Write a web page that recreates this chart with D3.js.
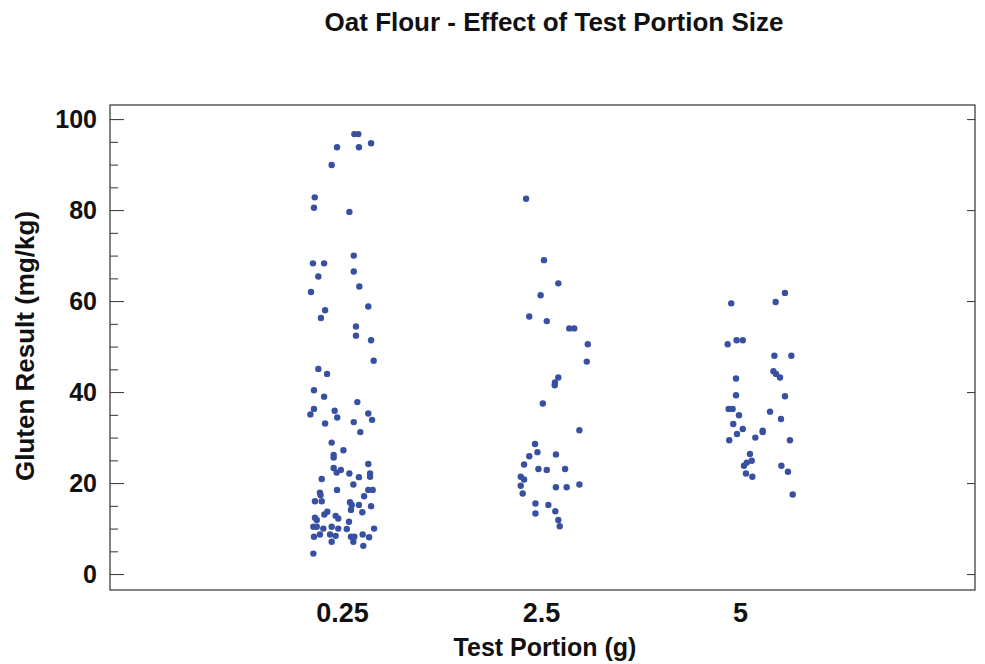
<!DOCTYPE html>
<html>
<head>
<meta charset="utf-8">
<script src="https://cdn.jsdelivr.net/npm/d3@7"></script>
<style>
  html, body { margin: 0; padding: 0; background: #fff; }
  svg { display: block; }
</style>
</head>
<body>
<svg id="chart" width="985" height="664"></svg>
<script>
// ---- DATA ----
const categories = ["0.25", "2.5", "5"];
const yTicks = [0, 20, 40, 60, 80, 100];
const title = "Oat Flour - Effect of Test Portion Size";
const xLabel = "Test Portion (g)";
const yLabel = "Gluten Result (mg/kg)";

// Gluten results (mg/kg) for each test portion
const values025 = [96.7,96.7,93.8,93.8,94.7,89.9,82.8,80.5,79.6,70.0,68.3,68.3,66.5,65.4,63.2,62.0,58.8,58.0,56.3,54.4,52.4,51.4,46.9,45.1,44.0,40.4,39.0,37.8,36.3,35.9,35.3,35.1,34.4,33.9,33.4,33.1,31.2,28.9,27.2,26.2,25.6,24.2,23.3,22.9,22.3,22.1,22.1,21.4,21.3,20.9,19.7,18.5,18.5,18.5,17.9,17.4,17.1,16.0,16.0,15.8,15.2,15.2,14.9,14.1,13.7,13.6,13.1,12.8,12.4,12.2,11.9,11.5,10.4,10.4,10.4,10.0,10.0,10.0,9.9,8.7,8.7,8.7,8.4,8.2,8.2,8.2,8.1,7.1,7.1,6.2,4.5];
// horizontal jitter, in units of category spacing
const jitter025 = [0.062,0.082,-0.025,0.085,0.146,-0.052,-0.137,-0.141,0.037,0.059,-0.146,-0.090,0.059,-0.119,0.087,-0.156,0.132,-0.085,-0.106,0.070,0.070,0.146,0.159,-0.119,-0.075,-0.141,-0.090,0.077,-0.141,-0.037,0.132,-0.159,-0.024,0.151,0.059,-0.085,0.092,-0.052,0.007,-0.042,-0.042,0.132,-0.042,-0.006,-0.027,0.037,0.141,0.141,0.085,-0.102,0.057,-0.025,0.132,0.154,-0.111,-0.108,0.111,-0.136,-0.102,0.040,0.049,0.085,0.146,0.045,-0.074,0.102,-0.089,-0.032,-0.136,-0.019,-0.127,0.035,-0.144,-0.127,-0.052,-0.094,-0.019,0.161,0.024,-0.111,-0.060,0.104,-0.032,-0.141,0.045,0.062,0.136,-0.052,0.057,0.107,-0.144];

const values25 = [82.5,69.0,63.9,61.3,56.6,55.6,54.0,54.0,50.5,46.7,43.2,42.1,41.5,37.5,31.6,28.6,26.8,25.9,26.3,24.1,23.1,22.9,23.1,21.4,20.8,19.4,19.1,19.1,19.7,17.7,15.5,15.2,13.3,13.8,11.9,10.5];
const jitter25 = [-0.075,0.015,0.087,-0.002,-0.059,0.029,0.142,0.167,0.235,0.230,0.087,0.070,0.069,0.009,0.193,-0.030,-0.018,-0.059,0.075,-0.085,-0.013,0.029,0.121,-0.102,-0.085,-0.102,0.075,0.129,0.193,-0.092,-0.028,0.037,-0.028,0.072,0.087,0.094];

const values5 = [61.8,59.5,59.8,50.5,51.4,51.4,48.0,48.0,44.6,44.0,43.2,43.0,39.3,39.1,36.3,36.3,34.9,35.7,34.1,33.0,31.9,31.5,31.2,30.8,30.0,29.4,29.4,26.4,24.9,24.5,23.8,23.8,22.1,21.4,22.5,17.5];
const jitter5 = [0.226,-0.044,0.179,-0.062,-0.017,0.014,0.173,0.258,0.168,0.181,0.201,-0.020,-0.020,0.226,-0.057,-0.037,-0.005,0.151,0.206,-0.034,0.014,0.114,0.114,-0.015,0.077,-0.054,0.251,0.050,0.059,0.034,0.020,0.208,0.030,0.062,0.241,0.265];

const seriesValues = [values025, values25, values5];
const seriesJitter = [jitter025, jitter25, jitter5];

// ---- LAYOUT ----
const svg = d3.select("#chart");
const frame = { left: 110, right: 975, top: 105, bottom: 590 };

const x = d3.scaleLinear().domain([-1.166, 3.181]).range([frame.left, frame.right]);
const y = d3.scaleLinear().domain([-3.5, 103.1]).range([frame.bottom, frame.top]);

const boldFont = "'Liberation Sans', Arial, Helvetica, sans-serif";
const narrowFont = "'Liberation Sans Narrow', 'Arial Narrow', 'Liberation Sans', Arial, sans-serif";

// Title
svg.append("text")
  .attr("x", 554).attr("y", 31)
  .attr("text-anchor", "middle")
  .attr("font-family", boldFont).attr("font-weight", "bold").attr("font-size", 26)
  .attr("fill", "#111")
  .text(title);

// Frame
svg.append("rect")
  .attr("x", frame.left).attr("y", frame.top)
  .attr("width", frame.right - frame.left).attr("height", frame.bottom - frame.top)
  .attr("fill", "none").attr("stroke", "#333").attr("stroke-width", 1.2);

// Left axis: major ticks (inward) and labels
const leftMajor = d3.axisRight(y).tickValues(yTicks).tickSize(14).tickFormat("");
const gMajor = svg.append("g").attr("transform", `translate(${frame.left},0)`).call(leftMajor);
gMajor.select(".domain").remove();
gMajor.selectAll("line").attr("stroke", "#333");

const minorVals = d3.range(0, 101, 5).filter(v => v % 20 !== 0);
const leftMinor = d3.axisRight(y).tickValues(minorVals).tickSize(8).tickFormat("");
const gMinor = svg.append("g").attr("transform", `translate(${frame.left},0)`).call(leftMinor);
gMinor.select(".domain").remove();
gMinor.selectAll("line").attr("stroke", "#333");

// Right axis: major ticks inward
const rightMajor = d3.axisLeft(y).tickValues(yTicks).tickSize(8).tickFormat("");
const gRight = svg.append("g").attr("transform", `translate(${frame.right},0)`).call(rightMajor);
gRight.select(".domain").remove();
gRight.selectAll("line").attr("stroke", "#333");

// Y tick labels
const yLabelsAxis = d3.axisLeft(y).tickValues(yTicks).tickSize(0).tickPadding(13).tickFormat(d3.format("d"));
const gYL = svg.append("g").attr("transform", `translate(${frame.left},0)`).call(yLabelsAxis);
gYL.select(".domain").remove();
gYL.selectAll("text")
  .attr("font-family", boldFont).attr("font-weight", "bold").attr("font-size", 25)
  .attr("fill", "#111");

// X tick labels
const xAxis = d3.axisBottom(x).tickValues([0, 1, 2]).tickSize(0).tickPadding(13)
  .tickFormat(i => categories[i]);
const gX = svg.append("g").attr("transform", `translate(0,${frame.bottom})`).call(xAxis);
gX.select(".domain").remove();
gX.selectAll("text")
  .attr("font-family", narrowFont).attr("font-weight", "bold").attr("font-size", 27)
  .attr("fill", "#111");

// Axis titles
svg.append("text")
  .attr("x", 545).attr("y", 656)
  .attr("text-anchor", "middle")
  .attr("font-family", narrowFont).attr("font-weight", "bold").attr("font-size", 25)
  .attr("fill", "#111")
  .text(xLabel);

svg.append("text")
  .attr("transform", "translate(34,346) rotate(-90)")
  .attr("text-anchor", "middle")
  .attr("font-family", boldFont).attr("font-weight", "bold").attr("font-size", 26)
  .attr("fill", "#111")
  .text(yLabel);

// Points
const pts = [];
seriesValues.forEach((vals, i) => {
  vals.forEach((v, j) => pts.push({ cat: i, value: v, jit: seriesJitter[i][j] }));
});
svg.append("g").selectAll("circle")
  .data(pts)
  .join("circle")
  .attr("cx", d => x(d.cat + d.jit))
  .attr("cy", d => y(d.value))
  .attr("r", 3.2)
  .attr("fill", "#3850a2");
</script>
</body>
</html>
